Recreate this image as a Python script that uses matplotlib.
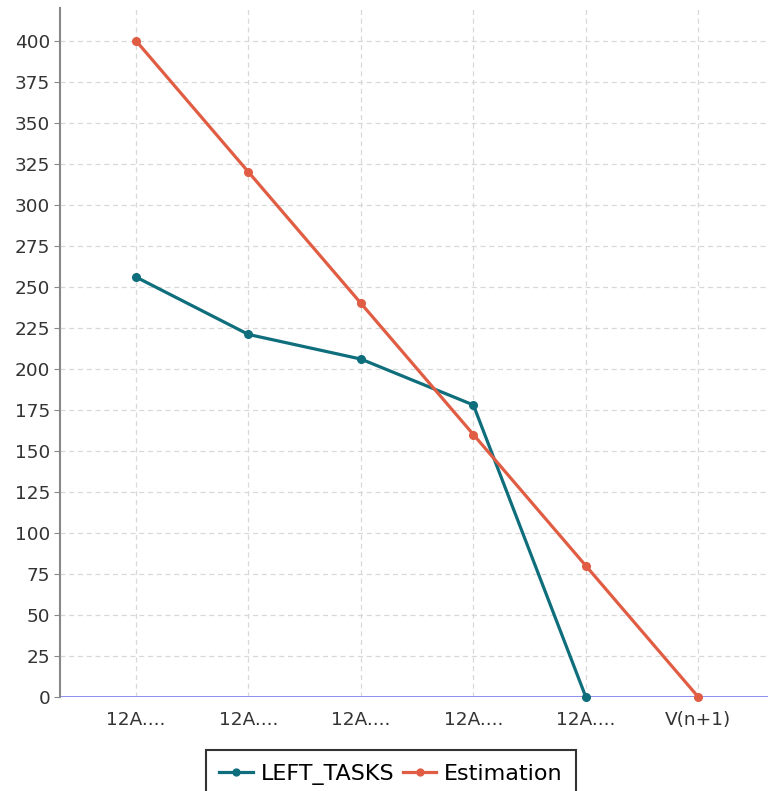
import matplotlib
matplotlib.use("Agg")
import matplotlib.pyplot as plt

categories = ["12A....", "12A....", "12A....", "12A....", "12A....", "V(n+1)"]
left_tasks = [256, 221, 206, 178, 0]
estimation = [400, 320, 240, 160, 80, 0]
yticks = list(range(0, 401, 25))

teal = "#0f6e7c"
orange = "#e05d44"

plt.rcParams['font.family'] = ['DejaVu Sans']
fig = plt.figure(figsize=(7.68, 7.91), dpi=100)
ax = fig.add_axes([60/768, 1-697/791, 1-60/768, (697-8)/791])

x_lt = list(range(len(left_tasks)))
x_est = list(range(len(estimation)))
ax.plot(x_lt, left_tasks, color=teal, lw=2.3, marker='o', ms=5.5, label="LEFT_TASKS", zorder=3, clip_on=False)
ax.plot(x_est, estimation, color=orange, lw=2.3, marker='o', ms=5.5, label="Estimation", zorder=3, clip_on=False)

ax.set_xlim(-0.676, 5.62)
ax.set_ylim(0, 420)
ax.set_yticks(yticks)
ax.set_xticks(x_est)
ax.set_xticklabels(categories)
ax.tick_params(axis='y', length=4, color='#888888', labelsize=13.3, labelcolor='#333333', pad=3)
ax.tick_params(axis='x', length=0, labelsize=13.3, labelcolor='#333333', pad=10)
ax.grid(True, color='#d8d8d8', linestyle=(0, (4, 3)), lw=0.9)
ax.set_axisbelow(True)
for s in ['top', 'right', 'bottom']:
    ax.spines[s].set_visible(False)
ax.spines['left'].set_color('#888888')
ax.spines['left'].set_linewidth(1.5)
ax.axhline(0, color='#7b7bf0', lw=1.2, zorder=2)

leg = fig.legend(loc='upper center', bbox_to_anchor=(391/768, 1-750/791), ncol=2,
                 fontsize=16, frameon=True, fancybox=False, edgecolor='black',
                 handlelength=1.5, handletextpad=0.35, columnspacing=0.4, borderpad=0.62,
                 borderaxespad=0, markerscale=0.9)
leg.get_frame().set_linewidth(1.5)

fig.savefig("out.png", dpi=100)
